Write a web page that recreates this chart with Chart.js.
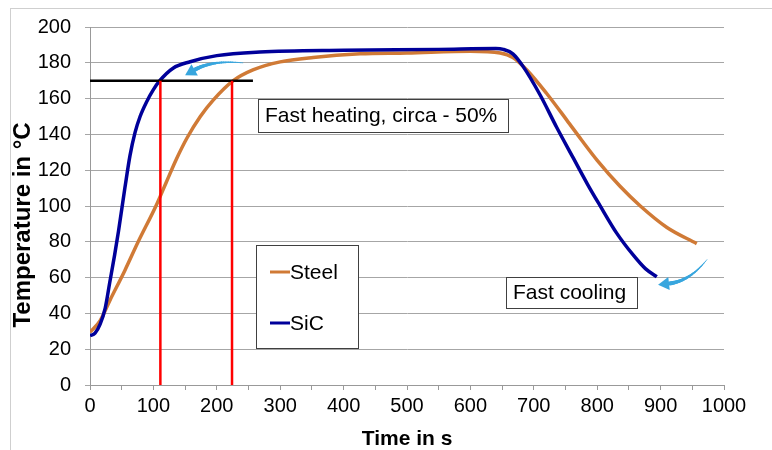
<!DOCTYPE html>
<html>
<head>
<meta charset="utf-8">
<script src="https://cdn.jsdelivr.net/npm/chart.js@4.4.1/dist/chart.umd.min.js"></script>
<style>
  html, body { margin: 0; padding: 0; background: #fff; }
  #wrap { width: 772px; height: 450px; position: relative; }
</style>
</head>
<body>
<div id="wrap"><canvas id="c" width="772" height="450"></canvas></div>
<script>
// ---- Data ----
const steelTime = [0, 16, 31, 55, 76, 104, 120, 136, 153, 174, 194, 226, 257, 300, 352, 426, 500, 600, 647, 667, 689, 720, 752, 775, 800, 836, 868, 910, 957];
const steelTemp = [29.5, 36, 47, 64, 80, 100, 113, 126, 138, 150, 159, 170, 176, 180.5, 183, 185, 185.5, 186.5, 185.5, 183, 176, 163, 148, 137, 125.5, 111, 100, 88, 79];

const sicTime = [0, 8, 16, 24, 31, 39, 45, 55, 63, 71, 79, 89, 100, 110, 131, 158, 200, 268, 400, 550, 640, 652, 667, 683, 710, 736, 762, 785, 804, 831, 857, 876, 894];
const sicTemp = [27.5, 29, 34, 43, 57, 73, 86, 110, 128, 141, 150, 158, 165, 170, 177, 180.6, 184, 186, 187, 187.5, 188, 187.5, 185, 178, 162, 144, 127, 112, 100.5, 84.7, 72.5, 65, 60.5];

const thresholdTemp = 170;      // black horizontal line
const thresholdEnd = 257;       // black line extends from 0 to here
const sicReachTime = 111;       // red vertical line (SiC)
const steelReachTime = 224;     // red vertical line (Steel)

const xTicksMin = 0, xTicksMax = 1000, xLabelStep = 100, xTickStep = 50;
const yTicksMin = 0, yTicksMax = 200, yTickStep = 20;

const seriesNames = ['Steel', 'SiC'];
const heatingNote = 'Fast heating, circa - 50%';
const coolingNote = 'Fast cooling';
const xTitle = 'Time in s';
const yTitle = 'Temperature in °C';

// ---- Build ----
const toXY = (xs, ys) => xs.map((x, i) => ({ x: x, y: ys[i] }));
const FONT = '"Liberation Sans", Arial, sans-serif';
const STEEL_COLOR = '#d07a36';
const SIC_COLOR = '#00009a';
const ARROW_COLOR = '#38a6de';

function drawArrow(ctx, x0, y0, cx, cy, x1, y1) {
  ctx.save();
  ctx.strokeStyle = ARROW_COLOR;
  ctx.fillStyle = ARROW_COLOR;
  const dx = x1 - cx, dy = y1 - cy;
  const len = Math.hypot(dx, dy);
  const ux = dx / len, uy = dy / len;
  const headLen = 11, headW = 6.5;
  const bx = x1 - ux * headLen, by = y1 - uy * headLen;
  const steps = 24;
  const p = t => [
    (1 - t) * (1 - t) * x0 + 2 * (1 - t) * t * cx + t * t * bx,
    (1 - t) * (1 - t) * y0 + 2 * (1 - t) * t * cy + t * t * by
  ];
  for (let i = 0; i < steps; i++) {
    const a = p(i / steps), b = p((i + 1) / steps);
    ctx.lineWidth = 0.6 + 3.4 * ((i + 1) / steps);
    ctx.lineCap = 'round';
    ctx.beginPath();
    ctx.moveTo(a[0], a[1]);
    ctx.lineTo(b[0], b[1]);
    ctx.stroke();
  }
  ctx.beginPath();
  ctx.moveTo(x1, y1);
  ctx.lineTo(bx - uy * headW, by + ux * headW);
  ctx.lineTo(bx + uy * headW, by - ux * headW);
  ctx.closePath();
  ctx.fill();
  ctx.restore();
}

function textBox(ctx, x, y, w, h, text) {
  ctx.save();
  ctx.fillStyle = '#ffffff';
  ctx.fillRect(x, y, w, h);
  ctx.strokeStyle = '#404040';
  ctx.lineWidth = 1;
  ctx.strokeRect(x + 0.5, y + 0.5, w, h);
  ctx.fillStyle = '#000';
  ctx.font = '21px ' + FONT;
  ctx.textBaseline = 'middle';
  ctx.textAlign = 'left';
  ctx.fillText(text, x + 7, y + h / 2 + 1);
  ctx.restore();
}

const frame = {
  id: 'frame',
  beforeDraw(chart) {
    const ctx = chart.ctx;
    ctx.save();
    ctx.fillStyle = '#fff';
    ctx.fillRect(0, 0, chart.width, chart.height);
    ctx.strokeStyle = '#cfcfcf';
    ctx.lineWidth = 1;
    ctx.strokeRect(10.5, 8.5, 900, 600);
    ctx.restore();
  },
  afterDraw(chart) {
    const ctx = chart.ctx;
    ctx.save();
    ctx.translate(23, 225);
    ctx.rotate(-Math.PI / 2);
    ctx.font = 'bold 24px ' + FONT;
    ctx.fillStyle = '#000';
    ctx.textAlign = 'center';
    ctx.textBaseline = 'middle';
    ctx.fillText(yTitle, 0, 0);
    ctx.restore();
  }
};

const notes = {
  id: 'notes',
  afterDatasetsDraw(chart) {
    const ctx = chart.ctx;
    const xs = chart.scales.x, ys = chart.scales.y;
    const X = v => xs.getPixelForValue(v), Y = v => ys.getPixelForValue(v);
    drawArrow(ctx, X(241), Y(180), X(192), Y(181.5), X(150), Y(173));
    drawArrow(ctx, X(973), Y(70), X(946), Y(58), X(896), Y(56));
    textBox(ctx, 258, 99, 250, 33, heatingNote);
    textBox(ctx, 506, 277, 131, 31, coolingNote);
    ctx.save();
    ctx.fillStyle = '#fff';
    ctx.fillRect(256, 245, 102, 103);
    ctx.strokeStyle = '#404040';
    ctx.lineWidth = 1;
    ctx.strokeRect(256.5, 245.5, 102, 103);
    const items = [[seriesNames[0], STEEL_COLOR, 272], [seriesNames[1], SIC_COLOR, 323]];
    ctx.font = '21px ' + FONT;
    ctx.textBaseline = 'middle';
    items.forEach(([name, col, yy]) => {
      ctx.strokeStyle = col;
      ctx.lineWidth = 3;
      ctx.beginPath();
      ctx.moveTo(270, yy);
      ctx.lineTo(290, yy);
      ctx.stroke();
      ctx.fillStyle = '#000';
      ctx.fillText(name, 290, yy + 1);
    });
    ctx.restore();
  }
};

new Chart(document.getElementById('c'), {
  type: 'line',
  data: {
    datasets: [
      { label: 'redSiC', data: [{ x: sicReachTime, y: 0 }, { x: sicReachTime, y: thresholdTemp }], borderColor: '#ff0000', borderWidth: 2.5, pointRadius: 0, order: 0 },
      { label: 'redSteel', data: [{ x: steelReachTime, y: 0 }, { x: steelReachTime, y: thresholdTemp }], borderColor: '#ff0000', borderWidth: 2.5, pointRadius: 0, order: 0 },
      { label: 'threshold', data: [{ x: 0, y: thresholdTemp }, { x: thresholdEnd, y: thresholdTemp }], borderColor: '#000000', borderWidth: 2.5, pointRadius: 0, order: 1 },
      { label: seriesNames[1], data: toXY(sicTime, sicTemp), borderColor: SIC_COLOR, borderWidth: 3.5, pointRadius: 0, cubicInterpolationMode: 'monotone', order: 2 },
      { label: seriesNames[0], data: toXY(steelTime, steelTemp), borderColor: STEEL_COLOR, borderWidth: 3.5, pointRadius: 0, cubicInterpolationMode: 'monotone', order: 3 }
    ]
  },
  options: {
    responsive: false,
    animation: false,
    devicePixelRatio: 1,
    layout: { padding: { left: 0, top: 27, right: 48, bottom: 0 } },
    plugins: { legend: { display: false }, tooltip: { enabled: false } },
    scales: {
      x: {
        type: 'linear', min: xTicksMin, max: xTicksMax,
        afterFit(s) { s.height = 65; },
        ticks: {
          stepSize: xTickStep, autoSkip: false, maxRotation: 0, padding: 4,
          color: '#000', font: { family: FONT, size: 20 },
          callback: v => (v % xLabelStep === 0 ? String(v) : '')
        },
        grid: { drawOnChartArea: false, drawTicks: true, tickLength: 5, color: '#999999' },
        border: { display: true, color: '#999999', width: 1 },
        title: { display: true, text: xTitle, color: '#000', font: { family: FONT, size: 21, weight: 'bold', lineHeight: 1 }, padding: { top: 0, bottom: 0 } }
      },
      y: {
        min: yTicksMin, max: yTicksMax,
        afterFit(s) { s.width = 90; },
        ticks: { stepSize: yTickStep, padding: 14, color: '#000', font: { family: FONT, size: 20 } },
        grid: { color: '#a6a6a6', tickLength: 5, drawTicks: true },
        border: { display: true, color: '#999999', width: 1 },
        title: { display: false }
      }
    }
  },
  plugins: [frame, notes]
});
</script>
</body>
</html>
